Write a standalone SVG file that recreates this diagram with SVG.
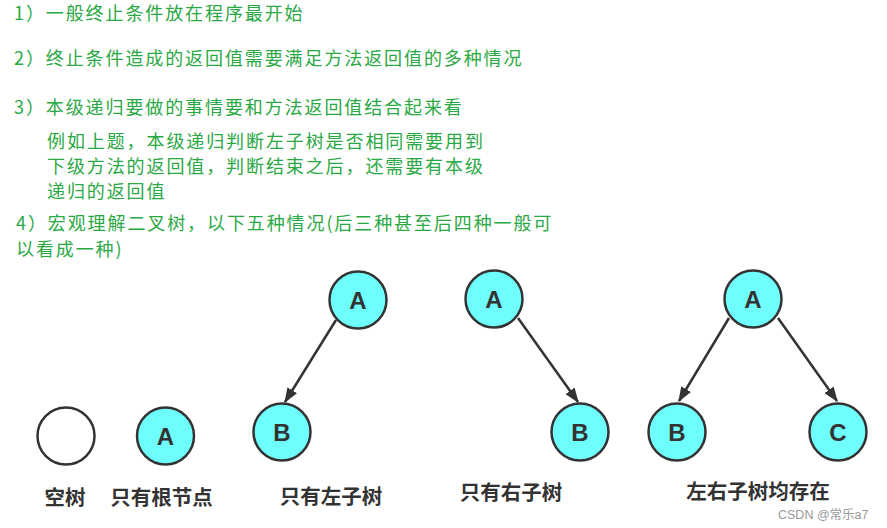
<svg xmlns="http://www.w3.org/2000/svg" width="887" height="528" viewBox="0 0 887 528">
<style>
.t{font-family:"Noto Sans CJK SC","Liberation Sans",sans-serif;font-size:18px;fill:#2aa844;letter-spacing:1.9px}
.n{fill:#6ffefe;stroke:#333;stroke-width:2.5}
.e{fill:#fff;stroke:#333;stroke-width:2.5}
.l{font-family:"Liberation Sans","Noto Sans CJK SC",sans-serif;font-weight:bold;font-size:24px;fill:#333;text-anchor:middle}
.c{font-family:"Noto Sans CJK SC",sans-serif;font-weight:bold;font-size:20.5px;fill:#333;text-anchor:middle}
.a{stroke:#333;stroke-width:2.5;fill:none;marker-end:url(#ah)}
</style>
<defs>
<marker id="ah" viewBox="0 0 12 9" refX="11" refY="4.5" markerWidth="6" markerHeight="4.5" orient="auto" markerUnits="strokeWidth">
<path d="M0,0 L12,4.5 L0,9 z" fill="#333"/>
</marker>
</defs>
<rect width="887" height="528" fill="#fff"/>
<g id="text">
<text class="t" x="14" y="20">1）一般终止条件放在程序最开始</text>
<text class="t" x="14" y="65">2）终止条件造成的返回值需要满足方法返回值的多种情况</text>
<text class="t" x="14" y="114">3）本级递归要做的事情要和方法返回值结合起来看</text>
<text class="t" x="47" y="148">例如上题，本级递归判断左子树是否相同需要用到</text>
<text class="t" x="47" y="173">下级方法的返回值，判断结束之后，还需要有本级</text>
<text class="t" x="47" y="198">递归的返回值</text>
<text class="t" x="16" y="230">4）宏观理解二叉树，以下五种情况(后三种甚至后四种一般可</text>
<text class="t" x="16" y="256">以看成一种)</text>
</g>
<g id="connectors">
<line class="a" x1="336" y1="320" x2="285" y2="402"/>
<line class="a" x1="518" y1="318" x2="578" y2="402"/>
<line class="a" x1="729" y1="318" x2="679" y2="401"/>
<line class="a" x1="778" y1="318" x2="837" y2="401"/>
</g>
<g id="empty"><circle class="e" cx="66" cy="436" r="28.5"/></g>
<g id="root-A"><circle class="n" cx="165.5" cy="436" r="28.5"/><text class="l" x="165.5" y="444.5">A</text></g>
<g id="left-A"><circle class="n" cx="358" cy="300" r="28.5"/><text class="l" x="358" y="308.5">A</text></g>
<g id="left-B"><circle class="n" cx="282" cy="432" r="28.5"/><text class="l" x="282" y="440.5">B</text></g>
<g id="right-A"><circle class="n" cx="494" cy="299" r="28.5"/><text class="l" x="494" y="307.5">A</text></g>
<g id="right-B"><circle class="n" cx="580" cy="432" r="28.5"/><text class="l" x="580" y="440.5">B</text></g>
<g id="both-A"><circle class="n" cx="753" cy="299" r="28.5"/><text class="l" x="753" y="307.5">A</text></g>
<g id="both-B"><circle class="n" cx="677" cy="432" r="28.5"/><text class="l" x="677" y="440.5">B</text></g>
<g id="both-C"><circle class="n" cx="838" cy="432" r="28.5"/><text class="l" x="838" y="440.5">C</text></g>
<g id="labels">
<text class="c" x="65" y="505">空树</text>
<text class="c" x="161.5" y="505">只有根节点</text>
<text class="c" x="331" y="504">只有左子树</text>
<text class="c" x="511" y="500">只有右子树</text>
<text class="c" x="758" y="499">左右子树均存在</text>
<text x="778" y="519" font-family="Liberation Sans,Noto Sans CJK SC,sans-serif" font-size="12.5" fill="#999">CSDN @常乐a7</text>
</g>
</svg>
